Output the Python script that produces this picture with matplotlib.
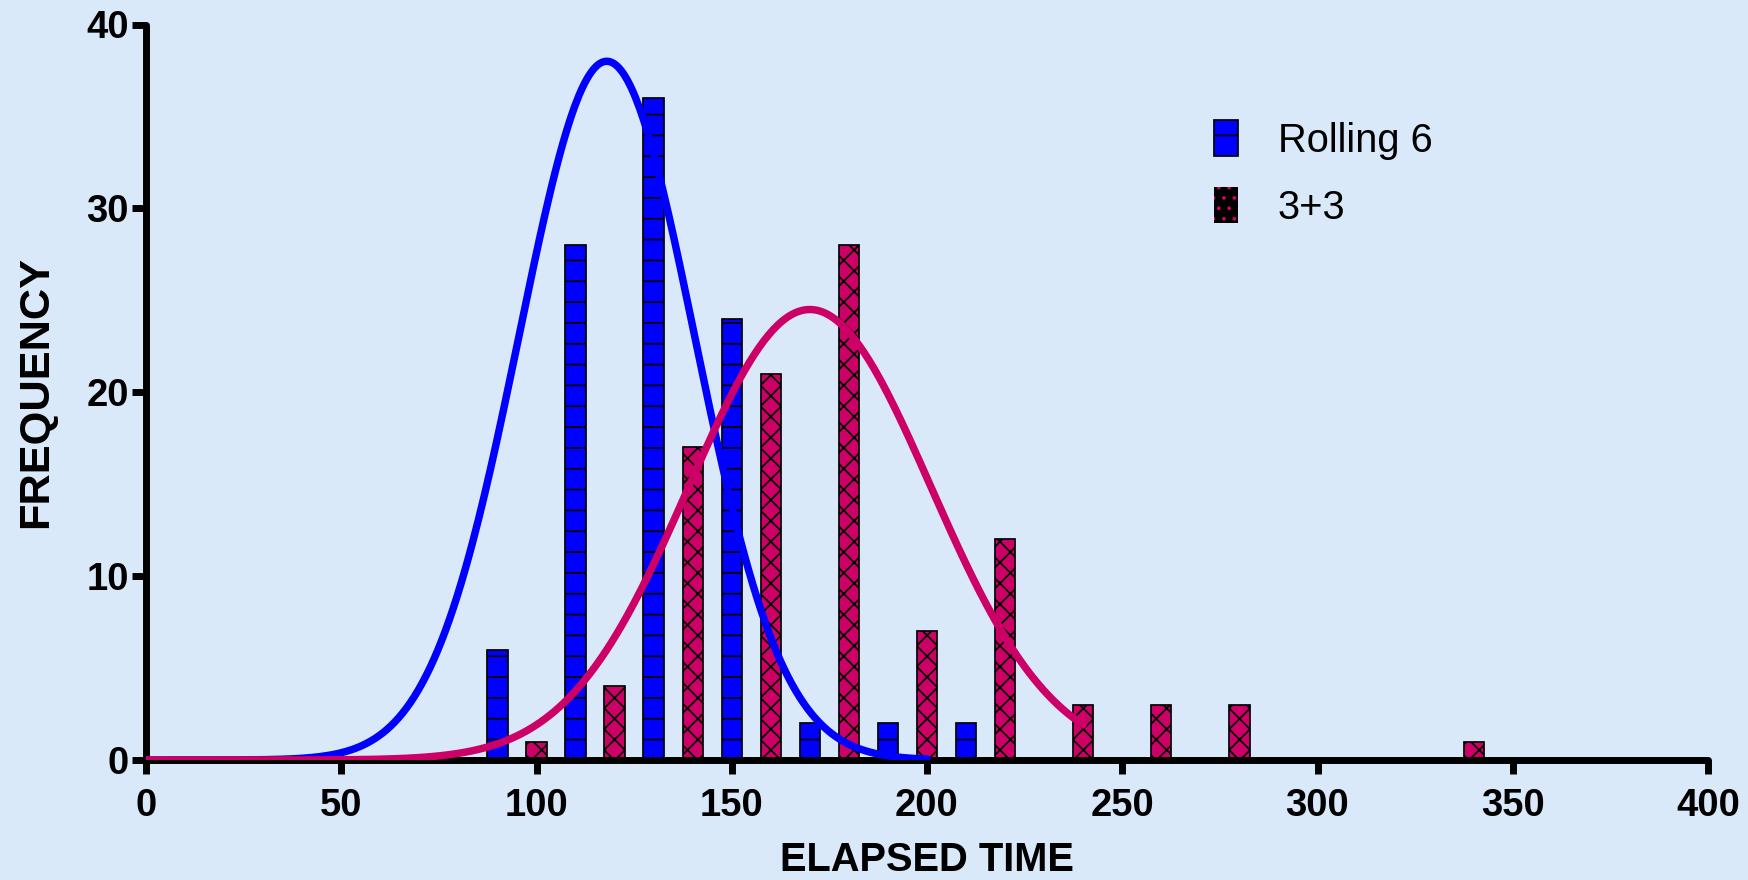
import numpy as np
import matplotlib.pyplot as plt
from matplotlib.patches import Patch

# histogram values
rolling_x = [90, 110, 130, 150, 170, 190, 210]
rolling_freq = [6, 28, 36, 24, 2, 2, 2]
three_x = [100, 120, 140, 160, 180, 200, 220, 240, 260, 280, 340]
three_freq = [1, 4, 17, 21, 28, 7, 12, 3, 3, 3, 1]

# fitted gaussian curves (peak, mean, sd, last x drawn)
rolling_fit = (38.0, 118.0, 22.5, 200)
three_fit = (24.5, 170.0, 31.0, 240)

blue = '#0000FF'
magenta = '#CC0066'
bg = '#DAE9F9'

plt.rcParams['font.family'] = ['Liberation Sans', 'DejaVu Sans']
plt.rcParams['hatch.linewidth'] = 1.0

fig = plt.figure(figsize=(1748 / 125, 880 / 125), dpi=125, facecolor=bg)
ax = fig.add_axes([146 / 1748, 120 / 880, 1562 / 1748, 735.5 / 880])
ax.set_facecolor('none')

w = 5.2
ax.bar(rolling_x, rolling_freq, width=w, color=blue, edgecolor='black',
       linewidth=1, hatch='-', zorder=2)
ax.bar(three_x, three_freq, width=w, color=magenta, edgecolor='black',
       linewidth=1, hatch='xx', zorder=2)

for (peak, mu, sd, xend), col in [(rolling_fit, blue), (three_fit, magenta)]:
    xs = np.linspace(0, xend, 400)
    ax.plot(xs, peak * np.exp(-(xs - mu) ** 2 / (2 * sd ** 2)), color=col,
            lw=4.3, solid_capstyle='round', zorder=3)

ax.set_xlim(0, 400)
ax.set_ylim(0, 40)
ax.set_xticks(np.arange(0, 401, 50))
ax.set_yticks(np.arange(0, 41, 10))
for s in ['top', 'right']:
    ax.spines[s].set_visible(False)
for s in ['left', 'bottom']:
    ax.spines[s].set_linewidth(4)
    ax.spines[s].set_capstyle('round')
ax.tick_params(length=8, width=4, labelsize=22)
ax.tick_params(axis='x', pad=8)
ax.tick_params(axis='y', pad=2)
for lab in ax.get_xticklabels() + ax.get_yticklabels():
    lab.set_fontweight('bold')

ax.set_xlabel('ELAPSED TIME', fontsize=23, fontweight='bold', labelpad=10)
ax.set_ylabel('FREQUENCY', fontsize=25, fontweight='bold', labelpad=17)

handles = [Patch(facecolor=blue, edgecolor='black', hatch='-', label='Rolling 6'),
           Patch(facecolor='black', edgecolor=magenta, hatch='..', linewidth=0,
                 label='3+3')]
ax.legend(handles=handles, loc='upper left', bbox_to_anchor=(1194 / 1748, 1 - 100 / 880),
          bbox_transform=fig.transFigure, frameon=False, fontsize=23,
          borderpad=0, handlelength=0.6, handleheight=1.0,
          handletextpad=1.0, labelspacing=0.7)

fig.savefig('out.png', dpi=125, facecolor=bg)
